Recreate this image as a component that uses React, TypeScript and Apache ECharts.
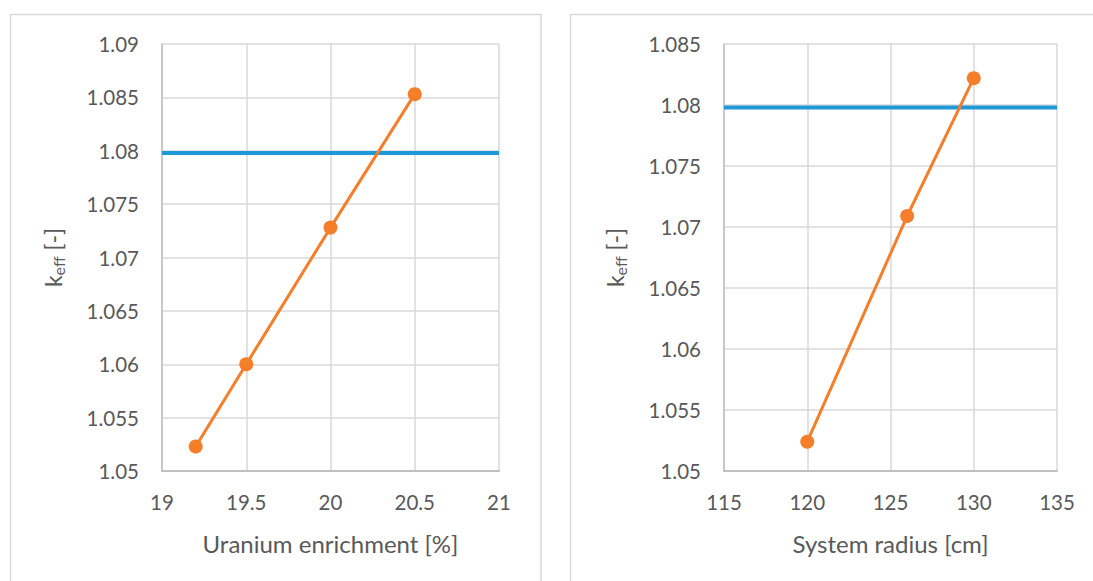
import React, { useEffect, useRef } from "react";
import * as echarts from "echarts";

// Left panel: k_eff against uranium enrichment
const enrichment = [19.2, 19.5, 20.0, 20.5];
const keffByEnrichment = [1.0523, 1.06, 1.0728, 1.0853];
const enrichmentRange = [19, 21];

// Right panel: k_eff against system radius
const radius = [120, 126, 130];
const keffByRadius = [1.0524, 1.0709, 1.0822];
const radiusRange = [115, 135];

// Target reactivity (horizontal reference line)
const keffTarget = 1.0798;

const xTitles = ["Uranium enrichment [%]", "System radius [cm]"];

const FONT = "Lato, 'Open Sans', sans-serif";
const TEXT = "#595959";
const GRID = "#d9d9d9";
const AXIS = "#bfbfbf";
const ORANGE = "#f47e2a";
const BLUE = "#1e98d6";

const fmtY = (v: number) => String(parseFloat(v.toFixed(4)));
const fmtX = (v: number) => String(parseFloat(v.toFixed(2)));

function yAxisFor(gridIndex: number, max: number) {
  return {
    type: "value",
    gridIndex,
    min: 1.05,
    max,
    interval: 0.005,
    name: "{k|k}{s|eff}{k| [-]}",
    nameLocation: "middle",
    nameGap: 96,
    nameRotate: 90,
    nameTextStyle: {
      rich: {
        k: { fontFamily: FONT, fontSize: 23, color: TEXT },
        s: { fontFamily: FONT, fontSize: 16, color: TEXT, padding: [10, 0, 0, 0] },
      },
    },
    axisLine: { show: true, lineStyle: { color: AXIS, width: 1.5 } },
    axisTick: { show: false },
    axisLabel: {
      formatter: fmtY,
      color: TEXT,
      fontFamily: FONT,
      fontSize: 20.5,
      margin: 23,
    },
    splitLine: { show: true, lineStyle: { color: GRID, width: 1.5 } },
  };
}

function xAxisFor(gridIndex: number, range: number[], interval: number, title: string) {
  return {
    type: "value",
    gridIndex,
    min: range[0],
    max: range[1],
    interval,
    name: title,
    nameLocation: "middle",
    nameGap: 60,
    nameTextStyle: { fontFamily: FONT, fontSize: 24, color: TEXT },
    axisLine: { show: true, onZero: false, lineStyle: { color: AXIS, width: 2 } },
    axisTick: { show: false },
    axisLabel: {
      formatter: fmtX,
      color: TEXT,
      fontFamily: FONT,
      fontSize: 20.5,
      margin: 20,
    },
    splitLine: { show: true, lineStyle: { color: GRID, width: 1.5 } },
  };
}

export default function App() {
  const ref = useRef<HTMLDivElement>(null);

  useEffect(() => {
    if (!ref.current) return;
    const chart = echarts.init(ref.current, null, { renderer: "svg" });

    const option = {
      animation: false,
      backgroundColor: "#ffffff",
      graphic: [
        {
          type: "rect",
          shape: { x: 10.5, y: 14.5, width: 530.5, height: 620 },
          style: { fill: "none", stroke: GRID, lineWidth: 1.5 },
          silent: true,
        },
        {
          type: "rect",
          shape: { x: 570.5, y: 14.5, width: 560, height: 620 },
          style: { fill: "none", stroke: GRID, lineWidth: 1.5 },
          silent: true,
        },
      ],
      grid: [
        { left: 162, top: 44, width: 337, height: 427 },
        { left: 724, top: 44, width: 333, height: 427 },
      ],
      xAxis: [
        xAxisFor(0, enrichmentRange, 0.5, xTitles[0]),
        xAxisFor(1, radiusRange, 5, xTitles[1]),
      ],
      yAxis: [yAxisFor(0, 1.09), yAxisFor(1, 1.085)],
      series: [
        {
          type: "line",
          xAxisIndex: 0,
          yAxisIndex: 0,
          data: enrichmentRange.map((x) => [x, keffTarget]),
          symbol: "none",
          lineStyle: { color: BLUE, width: 4 },
          z: 3,
        },
        {
          type: "line",
          xAxisIndex: 0,
          yAxisIndex: 0,
          data: enrichment.map((x, i) => [x, keffByEnrichment[i]]),
          symbol: "circle",
          symbolSize: 14,
          lineStyle: { color: ORANGE, width: 3 },
          itemStyle: { color: ORANGE },
          z: 4,
        },
        {
          type: "line",
          xAxisIndex: 1,
          yAxisIndex: 1,
          data: radiusRange.map((x) => [x, keffTarget]),
          symbol: "none",
          lineStyle: { color: BLUE, width: 4 },
          z: 3,
        },
        {
          type: "line",
          xAxisIndex: 1,
          yAxisIndex: 1,
          data: radius.map((x, i) => [x, keffByRadius[i]]),
          symbol: "circle",
          symbolSize: 14,
          lineStyle: { color: ORANGE, width: 3 },
          itemStyle: { color: ORANGE },
          z: 4,
        },
      ],
    };

    chart.setOption(option as any);
    return () => chart.dispose();
  }, []);

  return (
    <div
      ref={ref}
      style={{ position: "fixed", left: 0, top: 0, width: 1093, height: 581 }}
    />
  );
}
